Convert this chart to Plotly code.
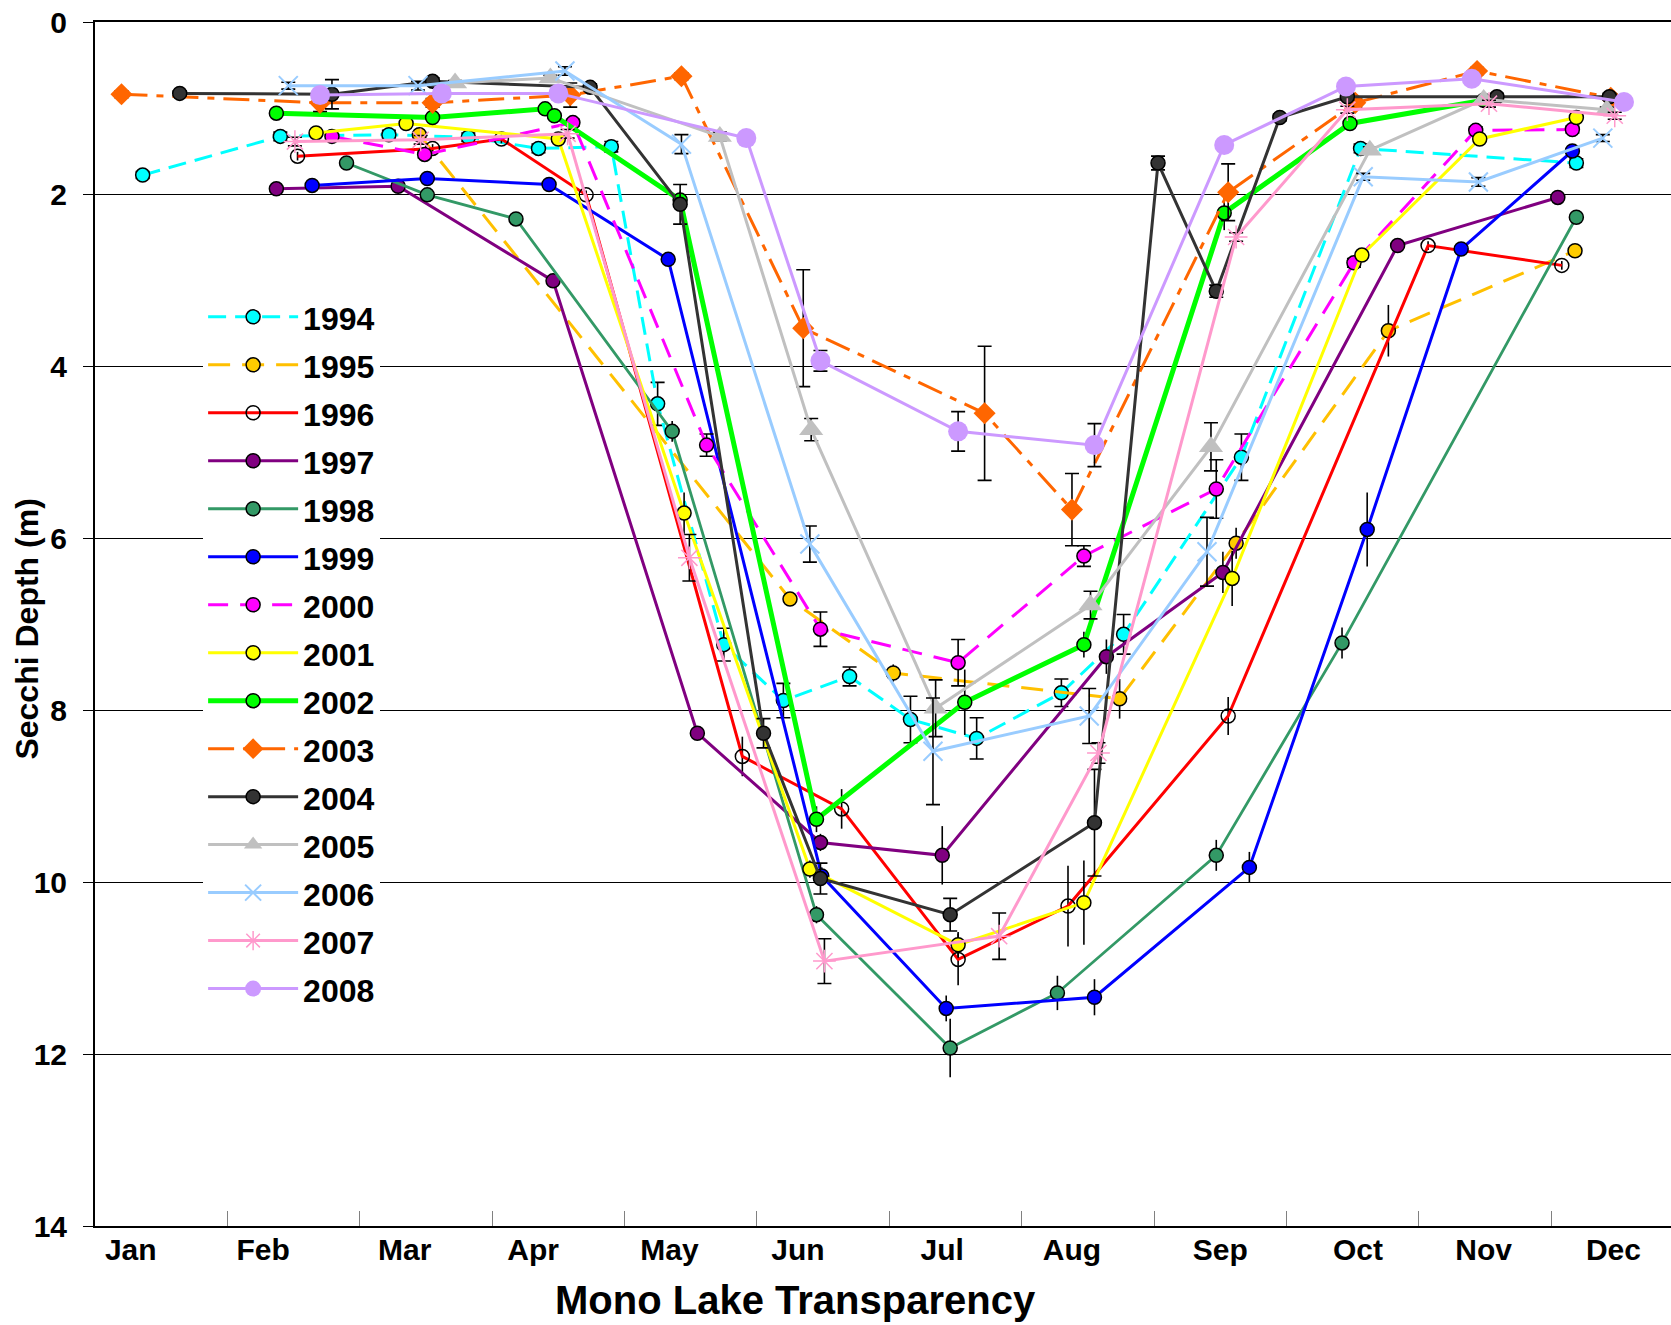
import plotly.graph_objects as go

# x values are months elapsed since 1 January; depths in metres
MONTHS = ["Jan", "Feb", "Mar", "Apr", "May", "Jun",
          "Jul", "Aug", "Sep", "Oct", "Nov", "Dec"]
MONTH_LABEL_POS = [0.27, 1.27, 2.34, 3.31, 4.34, 5.31,
                   6.40, 7.38, 8.50, 9.54, 10.49, 11.47]
MONTH_BOUNDS = list(range(1, 12))
DEPTH_TICKS = [0, 2, 4, 6, 8, 10, 12, 14]

t1994 = [0.36, 1.40, 2.22, 2.82, 3.35, 3.90, 4.25, 4.75, 5.20, 5.70, 6.16, 6.66, 7.30, 7.77, 8.66, 9.56, 11.19]
d1994 = [1.78, 1.33, 1.31, 1.34, 1.47, 1.45, 4.44, 7.24, 7.89, 7.61, 8.11, 8.33, 7.80, 7.12, 5.06, 1.47, 1.64]
e1994 = [0.04, 0.05, 0.05, 0.05, 0.05, 0.06, 0.25, 0.19, 0.20, 0.11, 0.27, 0.24, 0.16, 0.23, 0.27, 0.05, 0.05]

t1995 = [2.45, 5.25, 6.03, 7.74, 8.62, 9.77, 11.18]
d1995 = [1.31, 6.71, 7.57, 7.87, 6.06, 3.59, 2.66]
e1995 = [0.05, 0.06, 0.10, 0.23, 0.18, 0.30, 0.05]

t1996 = [1.53, 2.55, 3.07, 3.71, 4.89, 5.64, 6.52, 7.35, 8.56, 10.07, 11.08]
d1996 = [1.56, 1.47, 1.36, 2.01, 8.54, 9.15, 10.90, 10.28, 8.07, 2.60, 2.83]
e1996 = [0.05, 0.05, 0.05, 0.05, 0.23, 0.23, 0.30, 0.47, 0.22, 0.05, 0.05]

t1997 = [1.37, 2.29, 3.46, 4.55, 5.48, 6.40, 7.64, 8.52, 9.84, 11.05]
d1997 = [1.94, 1.91, 3.01, 8.27, 9.54, 9.69, 7.38, 6.40, 2.60, 2.04]
e1997 = [0.03, 0.03, 0.04, 0.05, 0.10, 0.34, 0.20, 0.24, 0.05, 0.04]

t1998 = [1.90, 2.51, 3.18, 4.36, 5.45, 6.46, 7.27, 8.47, 9.42, 11.19]
d1998 = [1.64, 2.01, 2.29, 4.76, 10.38, 11.93, 11.29, 9.69, 7.22, 2.27]
e1998 = [0.03, 0.03, 0.04, 0.12, 0.10, 0.34, 0.20, 0.18, 0.18, 0.04]

t1999 = [1.64, 2.51, 3.43, 4.33, 5.49, 6.43, 7.55, 8.72, 9.61, 10.32, 11.16]
d1999 = [1.90, 1.82, 1.89, 2.76, 9.93, 11.47, 11.34, 9.83, 5.90, 2.64, 1.50]
e1999 = [0.03, 0.03, 0.03, 0.04, 0.10, 0.15, 0.21, 0.18, 0.43, 0.04, 0.04]

t2000 = [1.79, 2.49, 3.61, 4.62, 5.48, 6.52, 7.47, 8.47, 9.51, 10.43, 11.16]
d2000 = [1.33, 1.54, 1.17, 4.92, 7.06, 7.45, 6.21, 5.43, 2.80, 1.26, 1.25]
e2000 = [0.03, 0.04, 0.04, 0.13, 0.20, 0.27, 0.12, 0.34, 0.05, 0.04, 0.04]

t2001 = [1.67, 2.35, 3.50, 4.45, 5.40, 6.52, 7.47, 8.59, 9.57, 10.46, 11.19]
d2001 = [1.29, 1.18, 1.36, 5.71, 9.85, 10.73, 10.24, 6.47, 2.71, 1.36, 1.11]
e2001 = [0.03, 0.03, 0.04, 0.24, 0.10, 0.15, 0.49, 0.32, 0.05, 0.05, 0.04]

t2002 = [1.37, 2.55, 3.40, 3.47, 4.42, 5.45, 6.57, 7.47, 8.53, 9.48, 10.49]
d2002 = [1.06, 1.11, 1.01, 1.09, 2.07, 9.27, 7.91, 7.24, 2.22, 1.18, 0.91]
e2002 = [0.03, 0.04, 0.03, 0.03, 0.10, 0.15, 0.38, 0.15, 0.20, 0.04, 0.03]

t2003 = [0.20, 1.70, 2.55, 3.59, 4.43, 5.35, 6.72, 7.38, 8.56, 9.52, 10.44, 11.45]
d2003 = [0.84, 0.94, 0.94, 0.85, 0.63, 3.56, 4.55, 5.67, 1.98, 0.94, 0.57, 0.88]
e2003 = [0.04, 0.10, 0.05, 0.14, 0.04, 0.68, 0.78, 0.42, 0.33, 0.05, 0.04, 0.04]

t2004 = [0.64, 1.79, 2.55, 3.74, 4.42, 5.05, 5.48, 6.46, 7.55, 8.03, 8.47, 8.95, 9.46, 10.59, 11.44]
d2004 = [0.83, 0.84, 0.69, 0.76, 2.12, 8.27, 9.96, 10.38, 9.31, 1.64, 3.13, 1.11, 0.87, 0.87, 0.87]
e2004 = [0.03, 0.17, 0.04, 0.04, 0.23, 0.17, 0.18, 0.19, 0.62, 0.08, 0.07, 0.04, 0.04, 0.04, 0.04]

t2005 = [2.72, 3.44, 4.72, 5.41, 6.35, 7.52, 8.43, 9.63, 10.49, 11.42]
d2005 = [0.71, 0.65, 1.33, 4.74, 7.98, 6.78, 4.94, 1.49, 0.90, 1.02]
e2005 = [0.03, 0.03, 0.05, 0.13, 0.33, 0.16, 0.28, 0.04, 0.03, 0.03]

t2006 = [1.46, 2.44, 3.55, 4.43, 5.40, 6.33, 7.51, 8.40, 9.58, 10.45, 11.39]
d2006 = [0.74, 0.74, 0.57, 1.42, 6.07, 8.48, 8.07, 6.16, 1.80, 1.86, 1.35]
e2006 = [0.04, 0.05, 0.05, 0.11, 0.21, 0.62, 0.32, 0.40, 0.04, 0.05, 0.04]

t2007 = [1.51, 2.46, 3.57, 4.49, 5.51, 6.83, 7.58, 8.62, 9.46, 10.53, 11.48]
d2007 = [1.39, 1.37, 1.30, 6.23, 10.92, 10.63, 8.50, 2.50, 1.02, 0.95, 1.09]
e2007 = [0.05, 0.05, 0.05, 0.27, 0.26, 0.27, 0.12, 0.05, 0.04, 0.04, 0.04]

t2008 = [1.70, 2.62, 3.50, 4.92, 5.48, 6.52, 7.55, 8.53, 9.45, 10.40, 11.55]
d2008 = [0.85, 0.83, 0.83, 1.35, 3.94, 4.76, 4.92, 1.43, 0.75, 0.66, 0.93]
e2008 = [0.03, 0.03, 0.03, 0.04, 0.12, 0.23, 0.25, 0.04, 0.03, 0.03, 0.03]

SERIES = [
    ("1994", t1994, d1994, e1994),
    ("1995", t1995, d1995, e1995),
    ("1996", t1996, d1996, e1996),
    ("1997", t1997, d1997, e1997),
    ("1998", t1998, d1998, e1998),
    ("1999", t1999, d1999, e1999),
    ("2000", t2000, d2000, e2000),
    ("2001", t2001, d2001, e2001),
    ("2002", t2002, d2002, e2002),
    ("2003", t2003, d2003, e2003),
    ("2004", t2004, d2004, e2004),
    ("2005", t2005, d2005, e2005),
    ("2006", t2006, d2006, e2006),
    ("2007", t2007, d2007, e2007),
    ("2008", t2008, d2008, e2008),
]

# line colour, dash, line width, marker symbol, marker colour, marker size,
# marker outline width, error-bar cap half-width
STYLE = {
    "1994": ("#00FFFF", "18px,9px", 3, "circle", "#00FFFF", 14, 1.5, 7),
    "1995": ("#FFC000", "22px,12px", 3, "circle", "#FFCC00", 14, 1.5, 0),
    "1996": ("#FF0000", "solid", 3, "circle-open", "#000000", 14, 1.5, 0),
    "1997": ("#800080", "solid", 3, "circle", "#800080", 14, 1.5, 0),
    "1998": ("#339966", "solid", 2.8, "circle", "#339966", 14, 1.5, 0),
    "1999": ("#0000FF", "solid", 3, "circle", "#0000FF", 14, 1.5, 0),
    "2000": ("#FF00FF", "20px,12px", 3, "circle", "#FF00FF", 14, 1.5, 7),
    "2001": ("#FFFF00", "solid", 3, "circle", "#FFFF00", 14, 1.5, 0),
    "2002": ("#00FF00", "solid", 5, "circle", "#00FF00", 14, 1.5, 0),
    "2003": ("#FF6600", "26px,9px,7px,9px", 3, "diamond", "#FF6600", 17, 0, 7),
    "2004": ("#333333", "solid", 3, "circle", "#333333", 14, 1.5, 7),
    "2005": ("#C0C0C0", "solid", 3, "triangle-up", "#C0C0C0", 21, 0, 7),
    "2006": ("#99CCFF", "solid", 3, "x-thin-open", "#99CCFF", 19, 2, 7),
    "2007": ("#FF99CC", "solid", 3, "asterisk-open", "#FF99CC", 19, 1.5, 7),
    "2008": ("#CC99FF", "solid", 3, "circle", "#CC99FF", 20, 0, 7),
}

FONT = "Liberation Sans, Arial, sans-serif"

fig = go.Figure()
for year, t, d, e in SERIES:
    lc, dash, lw, sym, mc, ms, mlw, cap = STYLE[year]
    if sym.endswith("open"):
        marker = dict(symbol=sym, color=mc, size=ms, line=dict(width=mlw, color=mc))
    else:
        marker = dict(symbol=sym, color=mc, size=ms, line=dict(width=mlw, color="black"))
    fig.add_trace(go.Scatter(
        x=t, y=d, name=f'<span style="font-size:32px">{year}</span>',
        mode="lines+markers",
        line=dict(color=lc, width=lw, dash=dash),
        marker=marker,
        error_y=dict(type="data", array=e, visible=True, color="black",
                     thickness=1.6, width=cap),
    ))

fig.update_layout(
    width=1671, height=1325,
    margin=dict(l=95, r=0, t=22, b=99),
    paper_bgcolor="white", plot_bgcolor="white",
    font=dict(family=FONT, color="black"),
    showlegend=True,
    legend=dict(
        x=0.0686, y=0.7792, xanchor="left", yanchor="top",
        bgcolor="white", borderwidth=0,
        font=dict(family=FONT, size=34.6, color="black", weight="bold"),
        itemwidth=90, tracegroupgap=0,
    ),
    xaxis=dict(
        range=[0, 11.905], tickmode="array", tickvals=MONTH_LABEL_POS, ticktext=MONTHS,
        ticks="", showgrid=False, zeroline=False,
        showline=True, linecolor="black", linewidth=2, mirror=True,
        tickfont=dict(family=FONT, size=30, color="black", weight="bold"),
        ticklabelstandoff=-4,
        minor=dict(tickmode="array", tickvals=MONTH_BOUNDS, ticks="inside",
                   ticklen=15, tickcolor="#808080", tickwidth=1, showgrid=False),
    ),
    yaxis=dict(
        range=[14, 0], tickmode="array", tickvals=DEPTH_TICKS,
        ticks="outside", ticklen=10, tickcolor="black", tickwidth=1,
        showgrid=True, gridcolor="black", gridwidth=1, zeroline=False,
        showline=True, linecolor="black", linewidth=2,
        tickfont=dict(family=FONT, size=30, color="black", weight="bold"),
        ticklabelstandoff=10,
    ),
    annotations=[
        dict(text="Mono Lake Transparency", xref="paper", yref="paper",
             x=0.4442, y=-0.0612, xanchor="center", yanchor="middle", showarrow=False,
             font=dict(family=FONT, size=40, color="black", weight="bold")),
        dict(text="Secchi Depth (m)", xref="paper", yref="paper",
             x=-0.0433, y=0.496, xanchor="center", yanchor="middle", showarrow=False,
             textangle=-90,
             font=dict(family=FONT, size=32, color="black", weight="bold")),
    ],
)

fig.write_html("out.html")
